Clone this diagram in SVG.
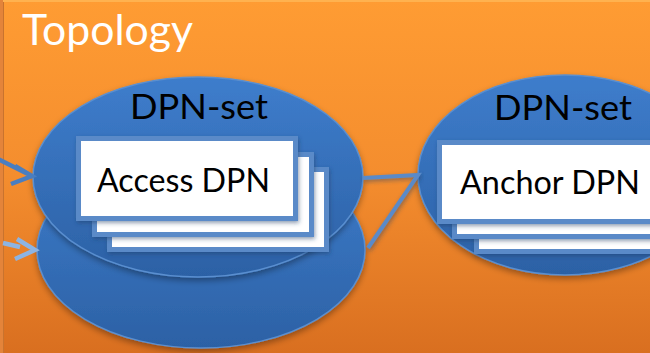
<svg xmlns="http://www.w3.org/2000/svg" width="650" height="353" viewBox="0 0 650 353">
  <defs>
    <linearGradient id="bg" x1="0" y1="0" x2="0" y2="1">
      <stop offset="0" stop-color="#FF9C33"/>
      <stop offset="0.5" stop-color="#F48D2E"/>
      <stop offset="1" stop-color="#D96F20"/>
    </linearGradient>
    <linearGradient id="ell" x1="0" y1="0" x2="0" y2="1">
      <stop offset="0" stop-color="#3E7DCC"/>
      <stop offset="1" stop-color="#2C61A5"/>
    </linearGradient>
    <filter id="sh" x="-10%" y="-10%" width="120%" height="130%">
      <feDropShadow dx="0" dy="3" stdDeviation="3" flood-color="#000" flood-opacity="0.35"/>
    </filter>
    <filter id="csh" x="-10%" y="-10%" width="120%" height="130%">
      <feDropShadow dx="1" dy="2" stdDeviation="2" flood-color="#1a3a66" flood-opacity="0.5"/>
    </filter>
    <style>
      .ell { fill: url(#ell); stroke: #5A8FD0; stroke-width: 1.5; filter: url(#sh); }
      .card { fill: #FFFFFF; stroke: #5A8AC8; stroke-width: 5; filter: url(#csh); }
      .lbl { font-family: Lato, "Liberation Sans", sans-serif; fill: #000; }
      .conn { fill: none; stroke: #5A8AC8; stroke-width: 4; stroke-linecap: butt; filter: url(#csh); }
      .arr1 { fill: none; stroke: #4A7EC0; stroke-width: 4.5; }
      .arr2 { fill: none; stroke: #8DB4E2; stroke-width: 4.5; }
    </style>
  </defs>

  <rect x="0" y="0" width="650" height="353" fill="url(#bg)"/>
  <rect x="0" y="0" width="3" height="353" fill="#E4843A"/>
  <line x1="3.5" y1="0" x2="3.5" y2="353" stroke="#C9732E" stroke-width="1"/>
  <rect x="3" y="0" width="647" height="2" fill="#FFB24F"/>

  <text x="22" y="45" font-family="Lato, 'Liberation Sans', sans-serif" font-size="42" fill="#FFFFFF" textLength="171" lengthAdjust="spacingAndGlyphs">Topology</text>

  <g id="dpn-set-lower">
    <ellipse class="ell" cx="201" cy="250" rx="164" ry="98"/>
  </g>

  <g id="dpn-set-access">
    <ellipse class="ell" cx="198" cy="177" rx="165" ry="100"/>
    <text class="lbl" x="130" y="119" font-size="35" textLength="138" lengthAdjust="spacingAndGlyphs">DPN-set</text>
    <rect class="card" x="109.5" y="169.5" width="217" height="80"/>
    <rect class="card" x="94.5" y="154.5" width="217" height="80"/>
    <rect class="card" x="78.5" y="138.5" width="217" height="80"/>
    <text class="lbl" x="97" y="192" font-size="33" textLength="173" lengthAdjust="spacingAndGlyphs">Access DPN</text>
  </g>

  <g id="dpn-set-anchor">
    <ellipse class="ell" cx="565" cy="175" rx="147" ry="100"/>
    <text class="lbl" x="494" y="120" font-size="35" textLength="138" lengthAdjust="spacingAndGlyphs">DPN-set</text>
    <rect class="card" x="476.5" y="173.5" width="260" height="78"/>
    <rect class="card" x="454.5" y="158.5" width="260" height="78"/>
    <rect class="card" x="439.5" y="142.5" width="260" height="79"/>
    <text class="lbl" x="460" y="194" font-size="33" textLength="180" lengthAdjust="spacingAndGlyphs">Anchor DPN</text>
  </g>

  <g id="connectors">
    <polyline class="conn" points="363,178 418,175 368,248"/>
    <path class="arr1" d="M-2,159 L32,176 M15,166 L32,176 L11,184"/>
    <path class="arr2" d="M3,243 L20,247 M17,239 L35,250 L15,259"/>
  </g>
</svg>
